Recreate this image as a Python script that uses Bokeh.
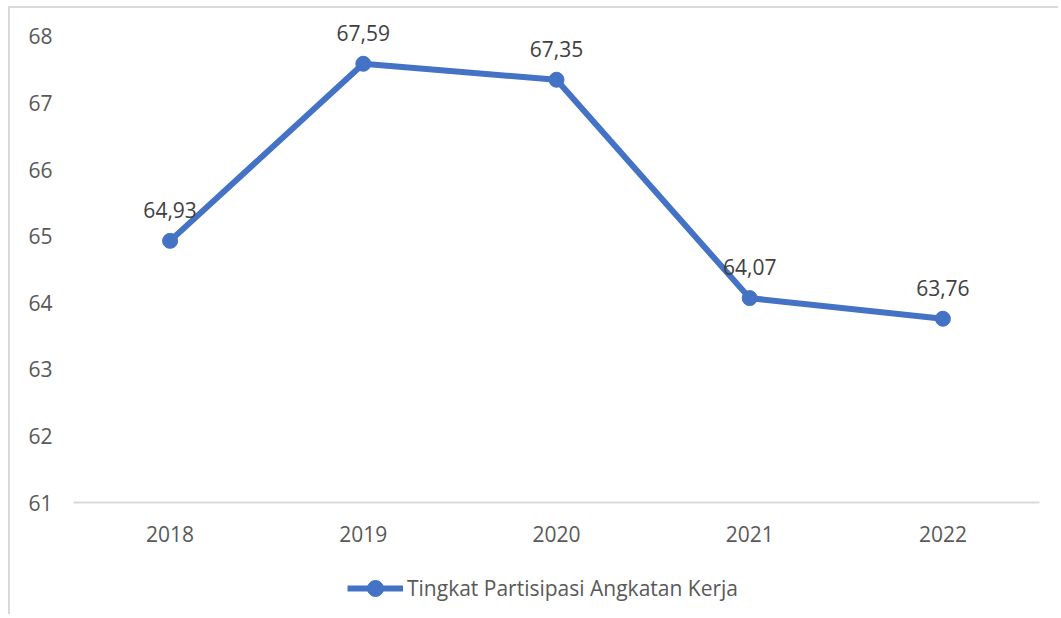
import numpy as np
from bokeh.plotting import figure
from bokeh.layouts import column
from bokeh.models import ColumnDataSource, FactorRange, Range1d, Legend, LegendItem, FixedTicker
from bokeh.core.properties import value
from bokeh.embed import file_html
from bokeh.resources import INLINE

years = ["2018", "2019", "2020", "2021", "2022"]
tpak = [64.93, 67.59, 67.35, 64.07, 63.76]
labels = [f"{v:.2f}".replace(".", ",") for v in tpak]
series_name = "Tingkat Partisipasi Angkatan Kerja"
y_ticks = [61, 62, 63, 64, 65, 66, 67, 68]

FONT = "Open Sans"
BLUE = "#4472C4"
FS = "21px"

src = ColumnDataSource(dict(x=years, y=tpak, lab=labels))

p = figure(width=1048, height=546, x_range=FactorRange(*years), y_range=Range1d(61, 68.3),
           output_backend="svg", toolbar_location=None,
           min_border_left=63, min_border_right=19, min_border_top=8, min_border_bottom=52)
p.outline_line_color = None
p.xgrid.grid_line_color = None
p.ygrid.grid_line_color = None
p.x_range.range_padding = 0
p.x_range.factor_padding = 0

p.line("x", "y", source=src, line_color=BLUE, line_width=6)
p.scatter("x", "y", source=src, size=15, fill_color=BLUE, line_color=BLUE)
p.text("x", "y", text="lab", source=src, text_align="center", text_baseline="middle",
       y_offset=-31, text_font=value(FONT), text_font_size=FS, text_color="#404040")

p.yaxis.ticker = FixedTicker(ticks=y_ticks)
p.yaxis.axis_line_color = None
p.yaxis.major_tick_line_color = None
p.yaxis.minor_tick_line_color = None
p.yaxis.major_label_text_font = FONT
p.yaxis.major_label_text_font_size = FS
p.yaxis.major_label_text_color = "#595959"
p.yaxis.major_label_standoff = 15

p.xaxis.axis_line_color = "#d9d9d9"
p.xaxis.axis_line_width = 2
p.xaxis.major_tick_line_color = None
p.xaxis.minor_tick_line_color = None
p.xaxis.major_label_text_font = FONT
p.xaxis.major_label_text_font_size = FS
p.xaxis.major_label_text_color = "#595959"
p.xaxis.major_label_standoff = 17

# legend strip below the chart (sample glyphs carry no visible data)
lf = figure(width=1048, height=60, x_range=Range1d(0, 1), y_range=Range1d(0, 1),
            output_backend="svg", toolbar_location=None, x_axis_type=None, y_axis_type=None,
            min_border=0)
lf.outline_line_color = None
lf.xgrid.grid_line_color = None
lf.ygrid.grid_line_color = None
nan = np.array([np.nan])
lr_line = lf.line(nan, nan, line_color=BLUE, line_width=6)
lr_pts = lf.scatter(nan, nan, size=15, fill_color=BLUE, line_color=BLUE)
legend = Legend(items=[LegendItem(label=series_name, renderers=[lr_line, lr_pts])],
                orientation="horizontal", location=(274, 6),
                label_text_font=FONT, label_text_font_size=FS, label_text_color="#595959",
                glyph_width=56, glyph_height=40, label_standoff=4, border_line_color=None,
                background_fill_alpha=0, margin=0, padding=2)
lf.add_layout(legend)

layout = column(p, lf, spacing=0)
layout.styles = {"border-left": "2px solid #d9d9d9", "border-top": "2px solid #d9d9d9",
                 "margin-left": "8px", "margin-top": "6px"}

open("out.html", "w").write(file_html(layout, INLINE))
